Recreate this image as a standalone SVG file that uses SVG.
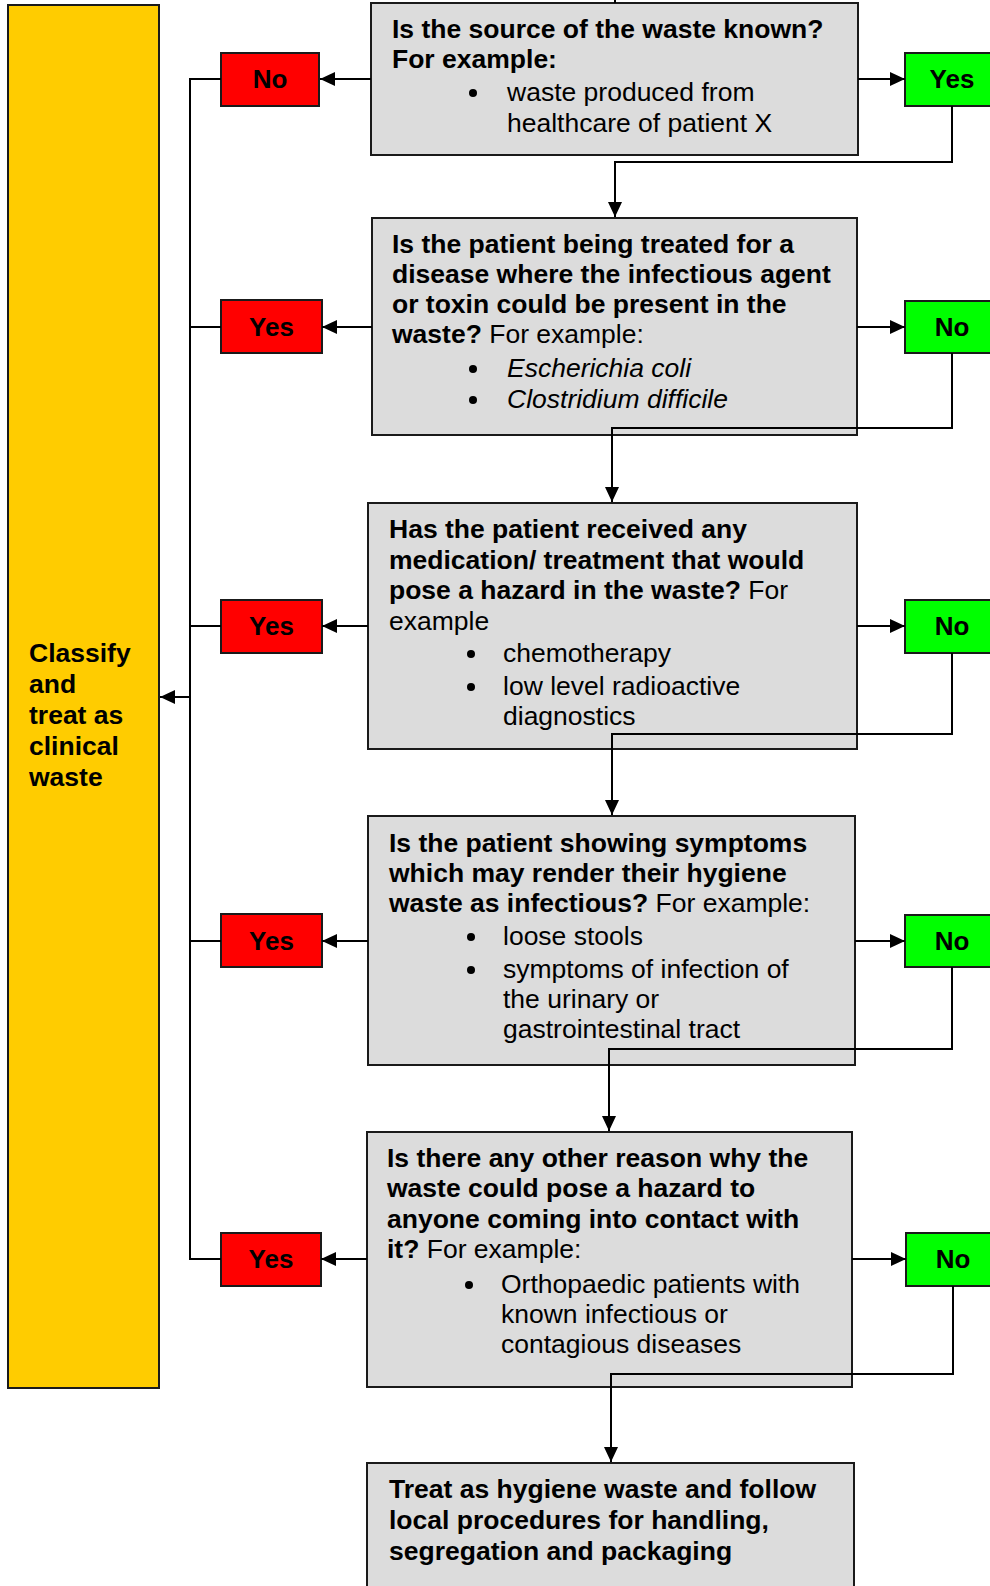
<svg xmlns="http://www.w3.org/2000/svg" width="990" height="1586" viewBox="0 0 990 1586">
<defs>
<marker id="arr" markerUnits="userSpaceOnUse" markerWidth="16" markerHeight="14" refX="15" refY="7" orient="auto">
<path d="M0,0 L15,7 L0,14 z" fill="#000"/>
</marker>
<style>
.box{fill:#DCDCDC;stroke:#1a1a1a;stroke-width:2}
.yel{fill:#FFCC00;stroke:#1a1a1a;stroke-width:2}
.red{fill:#FF0000;stroke:#1a1a1a;stroke-width:2}
.grn{fill:#00FF00;stroke:#1a1a1a;stroke-width:2}
text{font-family:"Liberation Sans",Arial,Helvetica,sans-serif;font-size:26.5px;fill:#000}
.b{font-weight:bold}
.lbl{font-weight:bold;font-size:26px;text-anchor:middle}
.i{font-style:italic}
.c{fill:none;stroke:#000;stroke-width:2}
.a{fill:none;stroke:#000;stroke-width:2;marker-end:url(#arr)}
</style>
</defs>
<rect width="990" height="1586" fill="#fff"/>

<g id="classify">
<rect class="yel" x="8" y="5" width="151" height="1383"/>
<text class="b" x="29" y="662">Classify</text>
<text class="b" x="29" y="693">and</text>
<text class="b" x="29" y="724">treat as</text>
<text class="b" x="29" y="755">clinical</text>
<text class="b" x="29" y="786">waste</text>
</g>

<g id="q1">
<rect class="box" x="371" y="3" width="487" height="152"/>
<text class="b" x="392" y="38">Is the source of the waste known?</text>
<text class="b" x="392" y="68">For example:</text>
<circle cx="473" cy="93" r="4"/>
<text x="507" y="101">waste produced from</text>
<text x="507" y="132">healthcare of patient X</text>
</g>
<g id="q1-no"><rect class="red" x="221" y="53" width="98" height="53"/><text class="lbl" x="270" y="88">No</text></g>
<g id="q1-yes"><rect class="grn" x="905" y="53" width="101" height="53"/><text class="lbl" x="952" y="88">Yes</text></g>

<g id="q2">
<rect class="box" x="372" y="218" width="485" height="217"/>
<text class="b" x="392" y="253">Is the patient being treated for a</text>
<text class="b" x="392" y="283">disease where the infectious agent</text>
<text class="b" x="392" y="313">or toxin could be present in the</text>
<text x="392" y="343"><tspan class="b">waste?</tspan> For example:</text>
<circle cx="473" cy="369" r="4"/>
<text class="i" x="507" y="377">Escherichia coli</text>
<circle cx="473" cy="400" r="4"/>
<text class="i" x="507" y="408">Clostridium difficile</text>
</g>
<g id="q2-yes"><rect class="red" x="221" y="300" width="101" height="53"/><text class="lbl" x="271.5" y="336">Yes</text></g>
<g id="q2-no"><rect class="grn" x="905" y="301" width="101" height="52"/><text class="lbl" x="952" y="336">No</text></g>

<g id="q3">
<rect class="box" x="368" y="503" width="489" height="246"/>
<text class="b" x="389" y="538">Has the patient received any</text>
<text class="b" x="389" y="569">medication/ treatment that would</text>
<text x="389" y="599"><tspan class="b">pose a hazard in the waste?</tspan> For</text>
<text x="389" y="630">example</text>
<circle cx="471" cy="654" r="4"/>
<text x="503" y="662">chemotherapy</text>
<circle cx="471" cy="687" r="4"/>
<text x="503" y="695">low level radioactive</text>
<text x="503" y="725">diagnostics</text>
</g>
<g id="q3-yes"><rect class="red" x="221" y="600" width="101" height="53"/><text class="lbl" x="271.5" y="635">Yes</text></g>
<g id="q3-no"><rect class="grn" x="905" y="600" width="101" height="53"/><text class="lbl" x="952" y="635">No</text></g>

<g id="q4">
<rect class="box" x="368" y="816" width="487" height="249"/>
<text class="b" x="389" y="852">Is the patient showing symptoms</text>
<text class="b" x="389" y="882">which may render their hygiene</text>
<text x="389" y="912"><tspan class="b">waste as infectious?</tspan> For example:</text>
<circle cx="471" cy="937" r="4"/>
<text x="503" y="945">loose stools</text>
<circle cx="471" cy="970" r="4"/>
<text x="503" y="978">symptoms of infection of</text>
<text x="503" y="1008">the urinary or</text>
<text x="503" y="1038">gastrointestinal tract</text>
</g>
<g id="q4-yes"><rect class="red" x="221" y="914" width="101" height="53"/><text class="lbl" x="271.5" y="950">Yes</text></g>
<g id="q4-no"><rect class="grn" x="905" y="915" width="101" height="52"/><text class="lbl" x="952" y="950">No</text></g>

<g id="q5">
<rect class="box" x="367" y="1132" width="485" height="255"/>
<text class="b" x="387" y="1167">Is there any other reason why the</text>
<text class="b" x="387" y="1197">waste could pose a hazard to</text>
<text class="b" x="387" y="1228">anyone coming into contact with</text>
<text x="387" y="1258"><tspan class="b">it?</tspan> For example:</text>
<circle cx="469" cy="1285" r="4"/>
<text x="501" y="1293">Orthopaedic patients with</text>
<text x="501" y="1323">known infectious or</text>
<text x="501" y="1353">contagious diseases</text>
</g>
<g id="q5-yes"><rect class="red" x="221" y="1233" width="100" height="53"/><text class="lbl" x="271" y="1268">Yes</text></g>
<g id="q5-no"><rect class="grn" x="906" y="1233" width="101" height="53"/><text class="lbl" x="953" y="1268">No</text></g>

<g id="hygiene">
<rect class="box" x="367" y="1463" width="487" height="140"/>
<text class="b" x="389" y="1498">Treat as hygiene waste and follow</text>
<text class="b" x="389" y="1529">local procedures for handling,</text>
<text class="b" x="389" y="1560">segregation and packaging</text>
</g>

<g id="connectors">
<path class="c" d="M615,0 V3"/>
<path class="a" d="M371,79 H320"/>
<path class="a" d="M858,79 H905"/>
<path class="a" d="M952,106 V162 H615 V217"/>
<path class="c" d="M221,79 H190 V1259 H221"/>
<path class="c" d="M190,327 H221 M190,626 H221 M190,941 H221"/>
<path class="a" d="M190,697 H160"/>
<path class="a" d="M372,327 H322"/>
<path class="a" d="M857,327 H905"/>
<path class="a" d="M952,353 V428 H612 V502"/>
<path class="a" d="M368,626 H322"/>
<path class="a" d="M857,626 H905"/>
<path class="a" d="M952,653 V734 H612 V815"/>
<path class="a" d="M368,941 H322"/>
<path class="a" d="M855,941 H905"/>
<path class="a" d="M952,967 V1049 H609 V1131"/>
<path class="a" d="M367,1259 H321"/>
<path class="a" d="M852,1259 H906"/>
<path class="a" d="M953,1286 V1374 H611 V1462"/>
</g>
</svg>
